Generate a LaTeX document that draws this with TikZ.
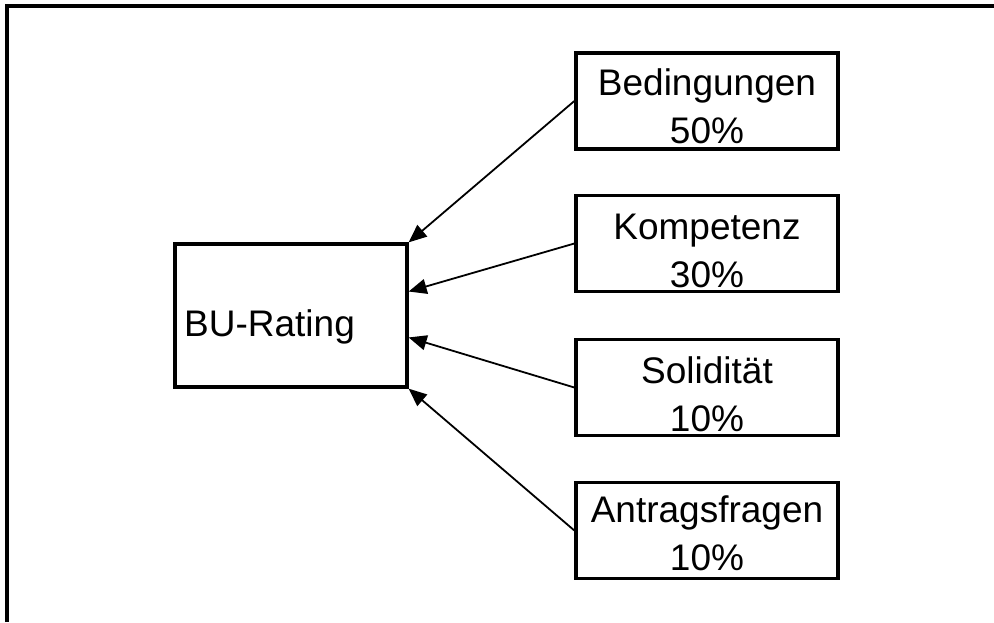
\documentclass[tikz,border=0pt]{standalone}
\usepackage{fontspec}
\setmainfont{Liberation Sans}
\usetikzlibrary{arrows.meta,calc}
\begin{document}
\begin{tikzpicture}[x=1pt,y=1pt,
  box/.style={draw=black,line width=3.3pt,rectangle,inner sep=0pt,minimum width=262pt,minimum height=96pt},
  bubox/.style={draw=black,line width=3.3pt,rectangle,inner sep=0pt,minimum width=232pt,minimum height=143pt},
  lbl/.style={inner sep=0pt,font=\fontsize{37}{44}\selectfont,anchor=base},
  conn/.style={line width=1.8pt,-{Triangle[length=18pt,width=15pt]}},
  frame/.style={line width=3.5pt}]
\useasboundingbox (0,0) rectangle (994,-622);
% outer frame
\coordinate (fa) at (7,-622);
\coordinate (fb) at (7,-6);
\coordinate (fc) at (994,-6);
\draw[frame] (fa) -- (fb) -- (fc);
% boxes
\node[bubox] (bu) at (291,-315.5) {};
\node[lbl,anchor=base west] (butxt) at (184,-336) {BU-Rating};
\node[box] (b1) at (707,-101) {};
\node[box] (b2) at (707,-243.5) {};
\node[box] (b3) at (707,-387.5) {};
\node[box] (b4) at (707,-530.5) {};
\node[lbl] (t1a) at ($(b1.north)+(0,-44)$) {Bedingungen};
\node[lbl] (t1b) at ($(b1.north)+(0,-92)$) {50\%};
\node[lbl] (t2a) at ($(b2.north)+(0,-46)$) {Kompetenz};
\node[lbl] (t2b) at ($(b2.north)+(0,-94)$) {30\%};
\node[lbl] (t3a) at ($(b3.north)+(0,-46)$) {Solidität};
\node[lbl] (t3b) at ($(b3.north)+(0,-94)$) {10\%};
\node[lbl] (t4a) at ($(b4.north)+(0,-42)$) {Antragsfragen};
\node[lbl] (t4b) at ($(b4.north)+(0,-90)$) {10\%};
% connectors
\draw[conn] (b1.west) -- (bu.north east);
\draw[conn] (b2.west) -- ($(bu.north east)!0.336!(bu.south east)$);
\draw[conn] (b3.west) -- ($(bu.north east)!0.65!(bu.south east)$);
\draw[conn] (b4.west) -- (bu.south east);
\end{tikzpicture}
\end{document}
